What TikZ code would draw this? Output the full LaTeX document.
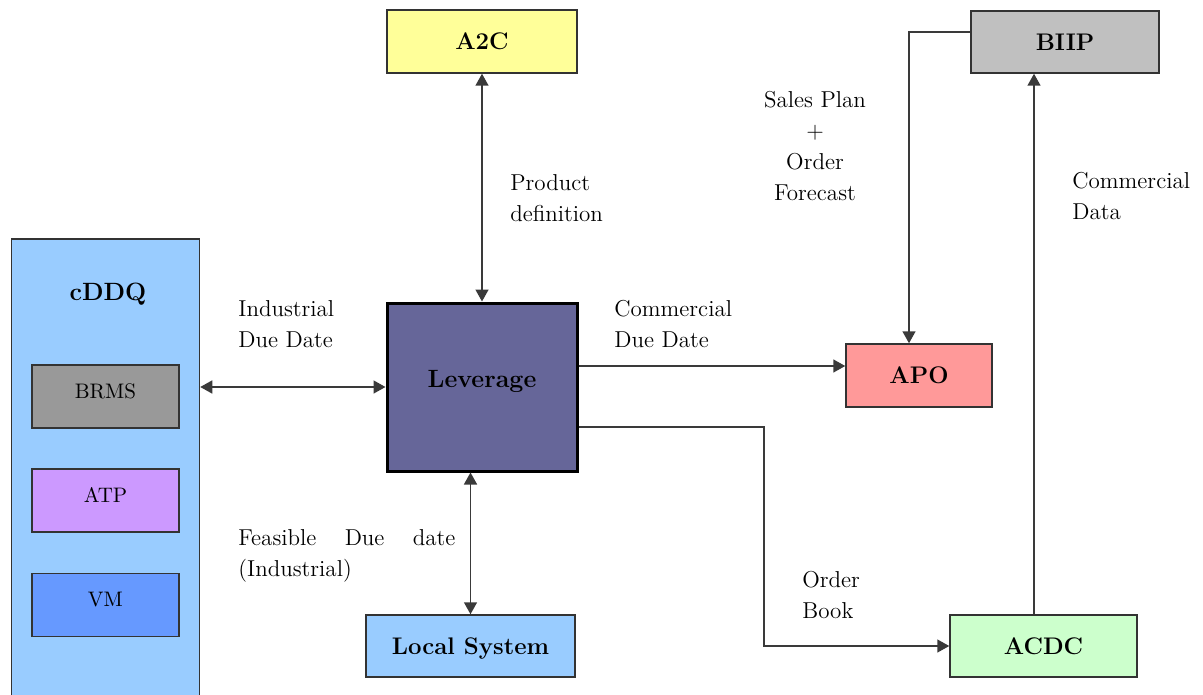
\documentclass[tikz,border=0pt]{standalone}
\usetikzlibrary{arrows.meta}
\definecolor{cddqc}{HTML}{99CCFF}
\definecolor{brmsc}{HTML}{999999}
\definecolor{atpc}{HTML}{CC99FF}
\definecolor{vmc}{HTML}{6699FF}
\definecolor{levc}{HTML}{666699}
\definecolor{a2cc}{HTML}{FFFF99}
\definecolor{biipc}{HTML}{C0C0C0}
\definecolor{apoc}{HTML}{FF9999}
\definecolor{localc}{HTML}{99CCFF}
\definecolor{acdcc}{HTML}{CCFFCC}
\definecolor{boxline}{HTML}{333333}
\definecolor{linec}{HTML}{3A3A3A}
\begin{document}
\begin{tikzpicture}[x=0.5pt,y=-0.5pt,
  >={Triangle[length=6pt,width=6.5pt]},
  box/.style={draw=boxline, line width=0.75pt, inner sep=0pt,
    font=\fontsize{12}{14}\selectfont\bfseries, text height=8.2pt, text depth=0pt},
  subbox/.style={draw=boxline, line width=0.75pt, inner sep=0pt,
    minimum width=73.5pt, minimum height=31.5pt,
    font=\fontsize{10.5}{12}\selectfont, text height=7.2pt, text depth=5.7pt},
  lbl/.style={inner sep=0pt, font=\fontsize{11.5}{15.5}\selectfont, align=left},
  conn/.style={draw=linec, line width=0.75pt}]
\useasboundingbox (0,0) rectangle (1203,695);
\clip (0,0) rectangle (1203,695);

% cDDQ container
\node[draw=boxline, line width=0.75pt, fill=cddqc, inner sep=0pt,
  minimum width=94pt, minimum height=240.5pt] (cddq) at (105.5,479.5) {};
\node[inner sep=0pt, anchor=base, font=\fontsize{12.5}{14}\selectfont\bfseries] (cddqt) at (108,300) {cDDQ};
\node[subbox, fill=brmsc] (brms) at (105.5,396.5) {BRMS};
\node[subbox, fill=atpc] (atp) at (105.5,500.5) {ATP};
\node[subbox, fill=vmc] (vm) at (105.5,605) {VM};

% main boxes
\node[box, fill=a2cc, minimum width=95pt, minimum height=31.5pt] (a2c) at (482,41.5) {A2C};
\node[box, fill=biipc, minimum width=94pt, minimum height=31pt] (biip) at (1065,42) {BIIP};
\node[box, draw=black, line width=1.5pt, fill=levc, minimum width=95pt, minimum height=84pt,
  font=\fontsize{12.5}{14}\selectfont\bfseries, text height=8.5pt, text depth=8.5pt] (lev) at (482,387) {Leverage};
\node[box, fill=apoc, minimum width=73pt, minimum height=31.5pt] (apo) at (919,375.5) {APO};
\node[box, fill=localc, minimum width=104.5pt, minimum height=31pt] (local) at (470.5,646) {Local System};
\node[box, fill=acdcc, minimum width=93.5pt, minimum height=31pt] (acdc) at (1043.5,646) {ACDC};

% connectors
\draw[conn, <->] (a2c) -- (lev);
\draw[conn, <->] (lev.west -| cddq.east) -- (lev.west);
\draw[conn, ->] ([yshift=4.75pt]apo.west -| lev.east) -- ([yshift=4.75pt]apo.west);
\coordinate (bend) at (764,500);
\draw[conn, ->] ([yshift=-20pt]lev.east) -| (bend) |- (acdc.west);
\draw[conn, <->] (local.north) -- (local.north |- lev.south);
\draw[conn, ->] ([yshift=5pt]biip.west) -| ([xshift=-5pt]apo.north);
\draw[conn, ->] ([xshift=-4.75pt]acdc.north) -- ([xshift=-4.75pt]acdc.north |- biip.south);

% labels (base anchor = baseline of the last line)
\node[lbl, anchor=base west] (pd) at (510,221) {Product\\definition};
\node[lbl, anchor=base west] (idd) at (238,347) {Industrial\\Due Date};
\node[lbl, anchor=base west] (cdd) at (614,347) {Commercial\\Due Date};
\node[lbl, anchor=base west, text width=108.5pt] (fdd) at (238,545) {Feasible\hfill Due\hfill date\\(Industrial)};
\node[lbl, align=center, anchor=base] (sp) at (815,200) {Sales Plan\\+\\Order\\Forecast};
\node[lbl, anchor=base west] (cd) at (1072,220) {Commercial\\Data};
\node[lbl, anchor=base west] (ob) at (802,618) {Order\\Book};
\end{tikzpicture}
\end{document}
